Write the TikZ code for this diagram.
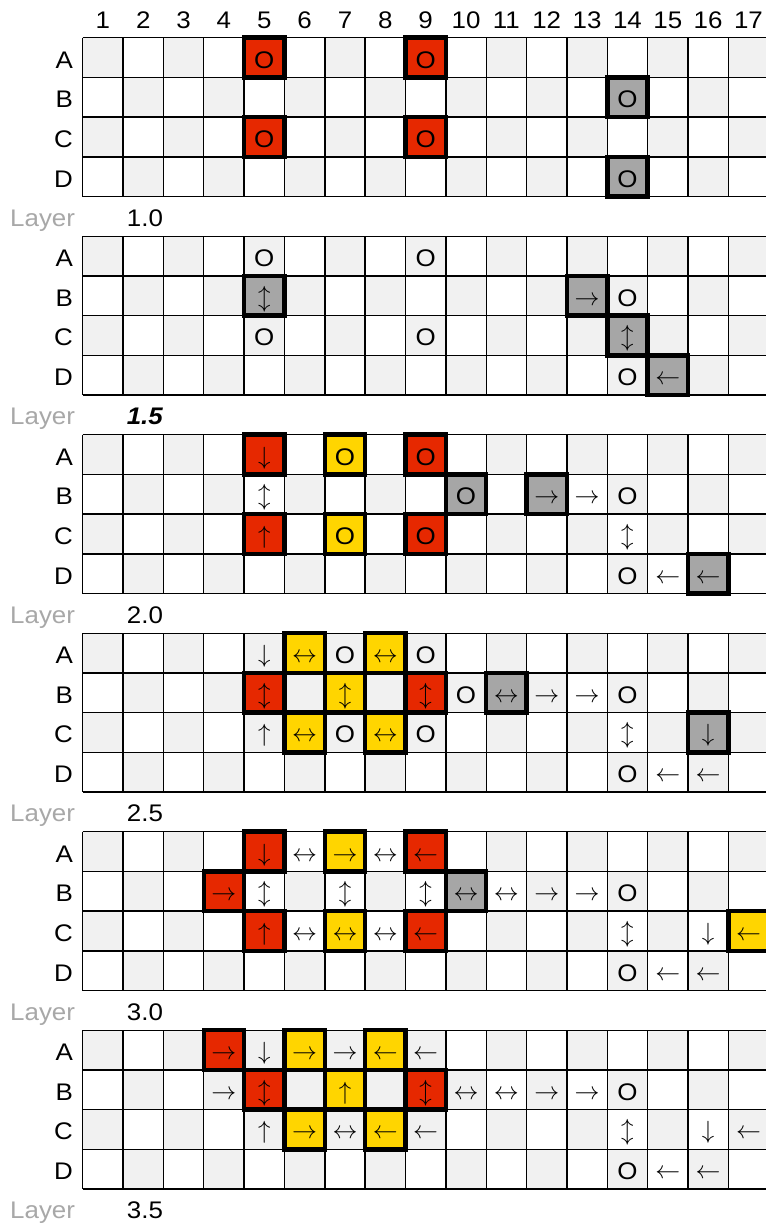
\documentclass[tikz,border=0pt]{standalone}
\usepackage{fontspec}
\setmainfont{Liberation Sans}[FakeStretch=1.08]
\definecolor{redfill}{HTML}{E62800}
\definecolor{yelfill}{HTML}{FFD500}
\definecolor{grayfill}{HTML}{A6A6A6}
\definecolor{checker}{HTML}{F1F1F1}
\definecolor{labelgray}{HTML}{A8A8A8}
\newcommand{\cx}[1]{82.7+(#1-0.5)*40.35}
\newcommand{\cy}[2]{37.7+198.5*#1+(#2-0.5)*39.7}
\newcommand{\hl}[4]{\node[hlbox, fill=#4] (h-#1-#2-#3) at ({\cx{#3}},{\cy{#1}{#2}}) {};}
\newcommand{\tx}[4]{\node[txt] (t-#1-#2-#3) at ({\cx{#3}},{\cy{#1}{#2}+10.5}) {#4};}
\newcommand{\aR}{\raisebox{1pt}{$\rightarrow$}}
\newcommand{\aL}{\raisebox{1pt}{$\leftarrow$}}
\newcommand{\aU}{\raisebox{1pt}{$\uparrow$}}
\newcommand{\aD}{\raisebox{1pt}{$\downarrow$}}
\newcommand{\aH}{\raisebox{1pt}{$\leftrightarrow$}}
\newcommand{\aV}{\raisebox{1pt}{$\updownarrow$}}
\tikzset{
  hlbox/.style={draw=black, line width=4.5pt, minimum width=40.35pt, minimum height=39.7pt, inner sep=0pt},
  txt/.style={anchor=base, inner sep=0pt, font=\fontsize{24pt}{24pt}\selectfont},
  hdr/.style={anchor=base, inner sep=0pt, font=\fontsize{24pt}{24pt}\selectfont},
  rowlab/.style={anchor=base east, inner sep=0pt, font=\fontsize{24pt}{24pt}\selectfont},
  laylab/.style={anchor=base west, inner sep=0pt, text=labelgray, font=\fontsize{24pt}{24pt}\selectfont},
  laynum/.style={anchor=base, inner sep=0pt, font=\fontsize{24pt}{24pt}\selectfont},
  gridline/.style={line width=1.4pt, black}
}
\begin{document}
\begin{tikzpicture}[x=1pt,y=-1pt]
\clip (0,0) rectangle (766,1224);
\fill[white] (0,0) rectangle (766,1224);
% checkerboard
\foreach \k in {0,...,5}{
  \foreach \r in {1,...,4}{
    \foreach \c in {1,...,17}{
      \pgfmathtruncatemacro\pv{mod(\r+\c,2)}
      \ifnum\pv=0
        \fill[checker] ({82.7+(\c-1)*40.35},{37.7+198.5*\k+(\r-1)*39.7}) rectangle ++(40.35,39.7);
      \fi
    }
  }
}
% grid lines
\foreach \k in {0,...,5}{
  \foreach \i in {0,...,4}{
    \draw[gridline] (82.7,{37.7+198.5*\k+\i*39.7}) -- (800,{37.7+198.5*\k+\i*39.7});
  }
  \foreach \j in {0,...,17}{
    \draw[gridline] ({82.7+\j*40.35},{37.7+198.5*\k}) -- ({82.7+\j*40.35},{37.7+198.5*\k+158.8});
  }
}
% headers
\foreach \c in {1,...,17}{
  \node[hdr] (hd-\c) at ({\cx{\c}},28.3) {\c};
}
\foreach \k/\n in {0/{1.0},1/{\textbf{\textit{1.5}}},2/{2.0},3/{2.5},4/{3.0},5/{3.5}}{
  \foreach \r/\l in {1/A,2/B,3/C,4/D}{
    \node[rowlab] (rl-\k-\r) at (73,{\cy{\k}{\r}+10.5}) {\l};
  }
  \node[laylab] (ll-\k) at (10,{37.7+198.5*\k+158.8+29.5}) {Layer};
  \node[laynum] (ln-\k) at (145,{37.7+198.5*\k+158.8+29.5}) {\n};
}
% ---------- Layer 1.0 ----------
\hl{0}{1}{5}{redfill}\tx{0}{1}{5}{O}
\hl{0}{1}{9}{redfill}\tx{0}{1}{9}{O}
\hl{0}{2}{14}{grayfill}\tx{0}{2}{14}{O}
\hl{0}{3}{5}{redfill}\tx{0}{3}{5}{O}
\hl{0}{3}{9}{redfill}\tx{0}{3}{9}{O}
\hl{0}{4}{14}{grayfill}\tx{0}{4}{14}{O}
% ---------- Layer 1.5 ----------
\tx{1}{1}{5}{O}\tx{1}{1}{9}{O}
\hl{1}{2}{5}{grayfill}\tx{1}{2}{5}{\aV}
\hl{1}{2}{13}{grayfill}\tx{1}{2}{13}{\aR}
\tx{1}{2}{14}{O}
\tx{1}{3}{5}{O}\tx{1}{3}{9}{O}
\hl{1}{3}{14}{grayfill}\tx{1}{3}{14}{\aV}
\tx{1}{4}{14}{O}
\hl{1}{4}{15}{grayfill}\tx{1}{4}{15}{\aL}
% ---------- Layer 2.0 ----------
\hl{2}{1}{5}{redfill}\tx{2}{1}{5}{\aD}
\hl{2}{1}{7}{yelfill}\tx{2}{1}{7}{O}
\hl{2}{1}{9}{redfill}\tx{2}{1}{9}{O}
\tx{2}{2}{5}{\aV}
\hl{2}{2}{10}{grayfill}\tx{2}{2}{10}{O}
\hl{2}{2}{12}{grayfill}\tx{2}{2}{12}{\aR}
\tx{2}{2}{13}{\aR}\tx{2}{2}{14}{O}
\hl{2}{3}{5}{redfill}\tx{2}{3}{5}{\aU}
\hl{2}{3}{7}{yelfill}\tx{2}{3}{7}{O}
\hl{2}{3}{9}{redfill}\tx{2}{3}{9}{O}
\tx{2}{3}{14}{\aV}
\tx{2}{4}{14}{O}\tx{2}{4}{15}{\aL}
\hl{2}{4}{16}{grayfill}\tx{2}{4}{16}{\aL}
% ---------- Layer 2.5 ----------
\tx{3}{1}{5}{\aD}
\hl{3}{1}{6}{yelfill}\tx{3}{1}{6}{\aH}
\tx{3}{1}{7}{O}
\hl{3}{1}{8}{yelfill}\tx{3}{1}{8}{\aH}
\tx{3}{1}{9}{O}
\hl{3}{2}{5}{redfill}\tx{3}{2}{5}{\aV}
\hl{3}{2}{7}{yelfill}\tx{3}{2}{7}{\aV}
\hl{3}{2}{9}{redfill}\tx{3}{2}{9}{\aV}
\tx{3}{2}{10}{O}
\hl{3}{2}{11}{grayfill}\tx{3}{2}{11}{\aH}
\tx{3}{2}{12}{\aR}\tx{3}{2}{13}{\aR}\tx{3}{2}{14}{O}
\tx{3}{3}{5}{\aU}
\hl{3}{3}{6}{yelfill}\tx{3}{3}{6}{\aH}
\tx{3}{3}{7}{O}
\hl{3}{3}{8}{yelfill}\tx{3}{3}{8}{\aH}
\tx{3}{3}{9}{O}
\tx{3}{3}{14}{\aV}
\hl{3}{3}{16}{grayfill}\tx{3}{3}{16}{\aD}
\tx{3}{4}{14}{O}\tx{3}{4}{15}{\aL}\tx{3}{4}{16}{\aL}
% ---------- Layer 3.0 ----------
\hl{4}{1}{5}{redfill}\tx{4}{1}{5}{\aD}
\tx{4}{1}{6}{\aH}
\hl{4}{1}{7}{yelfill}\tx{4}{1}{7}{\aR}
\tx{4}{1}{8}{\aH}
\hl{4}{1}{9}{redfill}\tx{4}{1}{9}{\aL}
\hl{4}{2}{4}{redfill}\tx{4}{2}{4}{\aR}
\tx{4}{2}{5}{\aV}\tx{4}{2}{7}{\aV}\tx{4}{2}{9}{\aV}
\hl{4}{2}{10}{grayfill}\tx{4}{2}{10}{\aH}
\tx{4}{2}{11}{\aH}\tx{4}{2}{12}{\aR}\tx{4}{2}{13}{\aR}\tx{4}{2}{14}{O}
\hl{4}{3}{5}{redfill}\tx{4}{3}{5}{\aU}
\tx{4}{3}{6}{\aH}
\hl{4}{3}{7}{yelfill}\tx{4}{3}{7}{\aH}
\tx{4}{3}{8}{\aH}
\hl{4}{3}{9}{redfill}\tx{4}{3}{9}{\aL}
\tx{4}{3}{14}{\aV}\tx{4}{3}{16}{\aD}
\hl{4}{3}{17}{yelfill}\tx{4}{3}{17}{\aL}
\tx{4}{4}{14}{O}\tx{4}{4}{15}{\aL}\tx{4}{4}{16}{\aL}
% ---------- Layer 3.5 ----------
\hl{5}{1}{4}{redfill}\tx{5}{1}{4}{\aR}
\tx{5}{1}{5}{\aD}
\hl{5}{1}{6}{yelfill}\tx{5}{1}{6}{\aR}
\tx{5}{1}{7}{\aR}
\hl{5}{1}{8}{yelfill}\tx{5}{1}{8}{\aL}
\tx{5}{1}{9}{\aL}
\tx{5}{2}{4}{\aR}
\hl{5}{2}{5}{redfill}\tx{5}{2}{5}{\aV}
\hl{5}{2}{7}{yelfill}\tx{5}{2}{7}{\aU}
\hl{5}{2}{9}{redfill}\tx{5}{2}{9}{\aV}
\tx{5}{2}{10}{\aH}\tx{5}{2}{11}{\aH}\tx{5}{2}{12}{\aR}\tx{5}{2}{13}{\aR}\tx{5}{2}{14}{O}
\tx{5}{3}{5}{\aU}
\hl{5}{3}{6}{yelfill}\tx{5}{3}{6}{\aR}
\tx{5}{3}{7}{\aH}
\hl{5}{3}{8}{yelfill}\tx{5}{3}{8}{\aL}
\tx{5}{3}{9}{\aL}
\tx{5}{3}{14}{\aV}\tx{5}{3}{16}{\aD}\tx{5}{3}{17}{\aL}
\tx{5}{4}{14}{O}\tx{5}{4}{15}{\aL}\tx{5}{4}{16}{\aL}
\end{tikzpicture}
\end{document}
